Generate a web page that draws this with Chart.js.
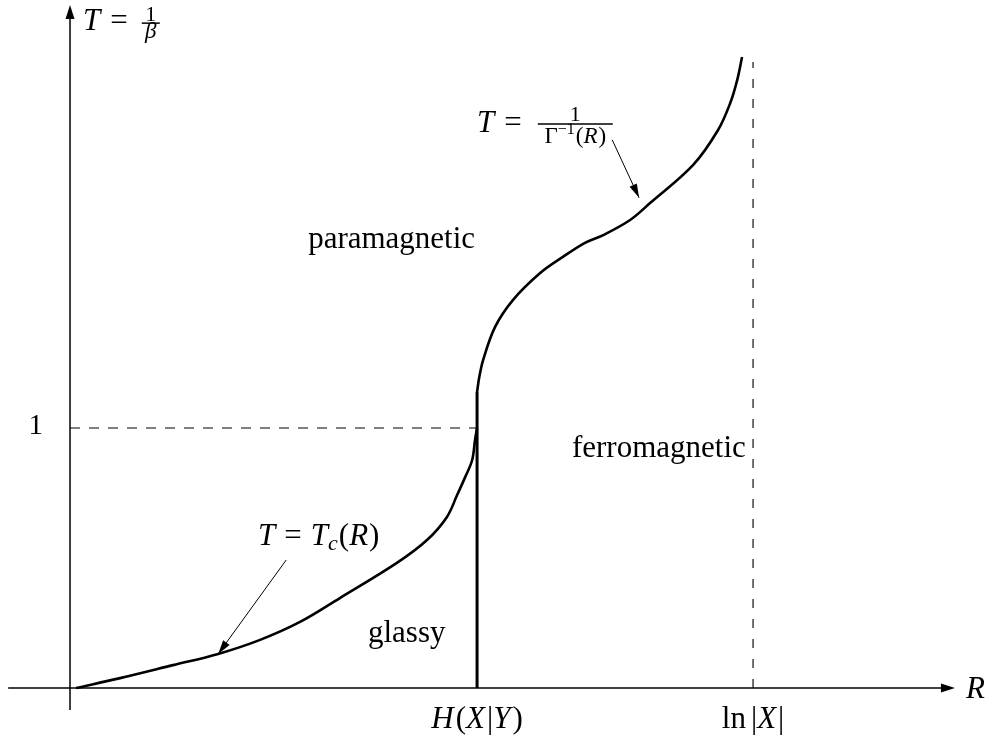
<!DOCTYPE html>
<html>
<head>
<meta charset="utf-8">
<script src="https://cdn.jsdelivr.net/npm/chart.js@4/dist/chart.umd.min.js"></script>
<style>
html,body{margin:0;padding:0;background:#fff;}
#c{display:block;}
</style>
</head>
<body>
<canvas id="c" width="992" height="740"></canvas>
<script>
// ---- data (R in units of H(X|Y), T in units of 1) ----
const tcR = [0.015, 0.123, 0.253, 0.364, 0.467, 0.565, 0.663, 0.803, 0.877, 0.926, 0.951, 0.971, 0.988, 0.995, 1.0];
const tcT = [0.000, 0.038, 0.088, 0.131, 0.185, 0.254, 0.346, 0.481, 0.569, 0.658, 0.742, 0.812, 0.877, 0.954, 1.0];
const gammaR = [1.0, 1.005, 1.015, 1.044, 1.088, 1.155, 1.211, 1.265, 1.310, 1.376, 1.425, 1.531, 1.592, 1.622, 1.639, 1.651];
const gammaT = [1.138, 1.192, 1.262, 1.388, 1.492, 1.596, 1.658, 1.712, 1.742, 1.800, 1.865, 2.012, 2.146, 2.250, 2.338, 2.427];
const hR = [1.0, 1.0];
const hT = [0.0, 1.138];
const oneR = [0.0, 1.0];
const oneT = [1.0, 1.0];
const lnX = 1.678;
const lnR = [lnX, lnX];
const lnT = [0.0, 2.408];

const pts = (xs, ys) => xs.map((x, i) => ({x: x, y: ys[i]}));

const SERIF = '"Liberation Serif", "DejaVu Serif", serif';
const BASE = 31;
const f = (size, italic) => (italic ? 'italic ' : '') + size + 'px ' + SERIF;

function runText(ctx, x, y, segs, align) {
  let w = 0;
  segs.forEach(s => { ctx.font = f(s.size || BASE, s.i); s.w = ctx.measureText(s.t).width; w += s.w + (s.gap || 0); });
  let cx = align === 'center' ? x - w / 2 : x;
  segs.forEach(s => {
    ctx.font = f(s.size || BASE, s.i);
    ctx.fillText(s.t, cx, y + (s.dy || 0));
    cx += s.w + (s.gap || 0);
  });
  return cx;
}

function arrowHead(ctx, x1, y1, x2, y2, len, half) {
  const a = Math.atan2(y2 - y1, x2 - x1);
  ctx.beginPath();
  ctx.moveTo(x2, y2);
  ctx.lineTo(x2 - len * Math.cos(a) + half * Math.sin(a), y2 - len * Math.sin(a) - half * Math.cos(a));
  ctx.lineTo(x2 - len * Math.cos(a) - half * Math.sin(a), y2 - len * Math.sin(a) + half * Math.cos(a));
  ctx.closePath();
  ctx.fill();
}

const overlay = {
  id: 'overlay',
  afterDatasetsDraw(chart) {
    const ctx = chart.ctx;
    const X = v => chart.scales.x.getPixelForValue(v);
    const Y = v => chart.scales.y.getPixelForValue(v);
    ctx.save();
    ctx.strokeStyle = '#000';
    ctx.fillStyle = '#000';
    ctx.lineWidth = 1.5;
    // axes
    const x0 = X(0), y0 = Y(0);
    ctx.beginPath(); ctx.moveTo(X(-0.152), y0); ctx.lineTo(X(2.15), y0); ctx.stroke();
    arrowHead(ctx, X(0), y0, X(2.174), y0, 14, 4.5);
    ctx.beginPath(); ctx.moveTo(x0, Y(-0.085)); ctx.lineTo(x0, Y(2.59)); ctx.stroke();
    arrowHead(ctx, x0, Y(0), x0, Y(2.627), 14, 4.5);
    // annotation arrows
    ctx.lineWidth = 1;
    [[0.531, 0.492, 0.364, 0.131], [1.332, 2.108, 1.398, 1.885]].forEach(a => {
      const ax1 = X(a[0]), ay1 = Y(a[1]), ax2 = X(a[2]), ay2 = Y(a[3]);
      ctx.beginPath(); ctx.moveTo(ax1, ay1); ctx.lineTo(ax2, ay2); ctx.stroke();
      arrowHead(ctx, ax1, ay1, ax2, ay2, 14, 4);
    });
    // texts
    ctx.textBaseline = 'alphabetic';
    ctx.textAlign = 'left';
    runText(ctx, X(0.585), Y(1.692), [{t: 'paramagnetic'}], 'left');
    runText(ctx, X(1.233), Y(0.888), [{t: 'ferromagnetic'}], 'left');
    runText(ctx, X(0.732), Y(0.177), [{t: 'glassy'}], 'left');
    runText(ctx, X(-0.084), Y(0.975), [{t: '1', size: 29}], 'center');
    runText(ctx, X(1.0), Y(-0.154), [{t: 'H', i: 1, gap: 2}, {t: '('}, {t: 'X', i: 1, gap: 2}, {t: '|'}, {t: 'Y', i: 1, gap: 2}, {t: ')'}], 'center');
    runText(ctx, X(lnX), Y(-0.154), [{t: 'ln', gap: 5}, {t: '|'}, {t: 'X', i: 1, gap: 2}, {t: '|'}], 'center');
    runText(ctx, X(2.201), Y(-0.038), [{t: 'R', i: 1}], 'left');
    // T = Tc(R)
    runText(ctx, X(0.462), Y(0.55), [{t: 'T', i: 1, gap: 9}, {t: '=', gap: 9}, {t: 'T', i: 1}, {t: 'c', i: 1, size: 22, dy: 5, gap: 1}, {t: '('}, {t: 'R', i: 1, gap: 1}, {t: ')'}], 'left');
    // fractions
    function fracLabel(lx, baseY, barY, numBase, denBase, denSegs, barW, gap2) {
      let cx = runText(ctx, lx, baseY, [{t: 'T', i: 1, gap: 10}, {t: '=', gap: gap2}], 'left');
      ctx.lineWidth = 1.5;
      ctx.beginPath(); ctx.moveTo(cx, barY); ctx.lineTo(cx + barW, barY); ctx.stroke();
      runText(ctx, cx + barW / 2, numBase, [{t: '1', size: 22}], 'center');
      runText(ctx, cx + barW / 2, denBase, denSegs, 'center');
    }
    fracLabel(X(0.032), Y(2.53), Y(2.557), Y(2.565), Y(2.5), [{t: 'β', i: 1, size: 23}], 18, 14);
    fracLabel(X(1.0), Y(2.138), Y(2.169), Y(2.181), Y(2.096),
      [{t: 'Γ', size: 23}, {t: '−1', size: 16, dy: -9, gap: 1}, {t: '(', size: 23}, {t: 'R', i: 1, size: 23, gap: 1}, {t: ')', size: 23}], 75, 16);
    ctx.restore();
  }
};

const base = {borderColor: '#000', pointRadius: 0, fill: false};

new Chart(document.getElementById('c'), {
  type: 'line',
  data: {
    datasets: [
      Object.assign({label: 'T = Tc(R)', data: pts(tcR, tcT), borderWidth: 2.6, tension: 0.35}, base),
      Object.assign({label: 'H(X|Y)', data: pts(hR, hT), borderWidth: 3}, base),
      Object.assign({label: 'T = 1/Γ⁻¹(R)', data: pts(gammaR, gammaT), borderWidth: 2.6, tension: 0.35}, base),
      {label: 'T = 1', data: pts(oneR, oneT), borderWidth: 1.2, borderDash: [10, 9], borderColor: '#000', pointRadius: 0, fill: false},
      {label: 'ln|X|', data: pts(lnR, lnT), borderWidth: 1.3, borderDash: [9, 11], borderColor: '#222', pointRadius: 0, fill: false}
    ]
  },
  options: {
    responsive: false,
    animation: false,
    events: [],
    layout: {padding: 0},
    plugins: {legend: {display: false}, tooltip: {enabled: false}},
    scales: {
      x: {type: 'linear', display: false, min: -0.172, max: 2.265},
      y: {type: 'linear', display: false, min: -0.2, max: 2.646}
    }
  },
  plugins: [overlay]
});
</script>
</body>
</html>
